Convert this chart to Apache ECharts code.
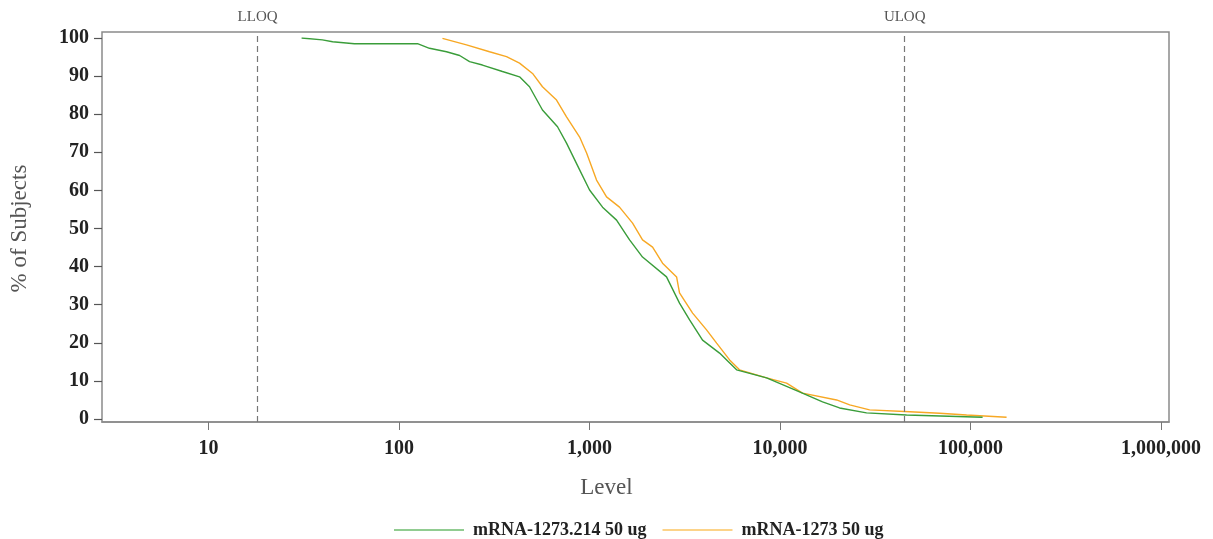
<!DOCTYPE html>
<html>
<head>
<meta charset="utf-8">
<script src="https://cdn.jsdelivr.net/npm/echarts@6/dist/echarts.min.js"></script>
<style>
html,body{margin:0;padding:0;background:#fff;}
#chart{width:1213px;height:539px;}
</style>
</head>
<body>
<div id="chart"></div>
<script>
// Series names
const seriesNames = ['mRNA-1273.214 50 ug', 'mRNA-1273 50 ug'];
// Reverse cumulative distribution: [level, % of subjects]
const greenLevels = [30.8, 39.6, 44.8, 58.3, 125, 144.5, 177.5, 208, 234.5, 274, 349, 429, 484, 566, 679, 757, 887, 1000, 1170, 1386, 1622, 1897, 2535, 2966, 3350, 3918, 4812, 5912, 8497, 12650, 16710, 20520, 28430, 46100, 115600];
const greenPct    = [100, 99.5, 99.0, 98.5, 98.5, 97.3, 96.4, 95.4, 93.8, 92.9, 91.2, 89.8, 87.2, 81.1, 76.7, 72.4, 65.4, 60.1, 55.6, 52.2, 47.0, 42.5, 37.3, 30.4, 26.0, 20.7, 17.3, 12.9, 10.8, 7.1, 4.5, 2.9, 1.6, 1.05, 0.45];
const orangeLevels = [169, 226, 298.5, 366.5, 429, 502, 566, 671, 757, 887, 965, 1088, 1228, 1436, 1682, 1897, 2142, 2416, 2863, 2966, 3475, 4112, 4645, 5433, 6124, 8497, 10820, 13120, 19800, 23200, 29500, 47900, 68800, 95300, 154500];
const orangePct    = [99.9, 98.2, 96.4, 95.1, 93.4, 90.7, 87.2, 83.7, 79.3, 74.0, 69.8, 62.7, 58.3, 55.6, 51.4, 47.0, 45.1, 40.9, 37.3, 33.1, 27.8, 23.4, 19.9, 15.5, 12.9, 10.8, 9.4, 6.8, 5.0, 3.7, 2.4, 1.9, 1.5, 1.05, 0.45];
// Reference lines
const refNames = ['LLOQ', 'ULOQ'];
const refValues = [18.1, 45100];
// Axis ranges
const xMin = 2.76, xMax = 1.1e6;
const yTicksMin = 0, yTicksMax = 100, yTickStep = 10;

const pair = (xs, ys) => xs.map((x, i) => [x, ys[i]]);
const serif = '"Liberation Serif", "DejaVu Serif", serif';

const chart = echarts.init(document.getElementById('chart'), null, {renderer: 'canvas'});
chart.setOption({
  animation: false,
  backgroundColor: '#fff',
  grid: [
    {left: 102, right: 44, top: 38, bottom: 120, show: false},
    {left: 102, right: 44, top: 32, bottom: 117, show: true, borderColor: '#8a8a8a', borderWidth: 1.5, backgroundColor: 'transparent', z: 0}
  ],
  xAxis: [
    {gridIndex: 0, type: 'log', min: xMin, max: xMax, show: false},
    {gridIndex: 1, type: 'log', min: xMin, max: xMax,
      axisLine: {show: true, lineStyle: {color: '#8a8a8a', width: 1.5}},
      axisTick: {show: true, length: 8, lineStyle: {color: '#777'}},
      splitLine: {show: false},
      axisLabel: {showMinLabel: false, showMaxLabel: false, margin: 17, color: '#222', fontFamily: serif, fontWeight: 'bold', fontSize: 20,
        formatter: v => Math.round(v).toLocaleString('en-US')},
      name: 'Level', nameLocation: 'middle', nameGap: 54,
      nameTextStyle: {fontFamily: serif, fontSize: 23, color: '#555', padding: [0, 58, 0, 0]}
    }
  ],
  yAxis: [
    {gridIndex: 0, type: 'value', min: yTicksMin, max: yTicksMax, interval: yTickStep,
      axisLine: {show: false},
      axisTick: {show: true, length: 8, lineStyle: {color: '#555', width: 1.2}},
      splitLine: {show: false},
      axisLabel: {margin: 13, color: '#222', fontFamily: serif, fontWeight: 'bold', fontSize: 20},
      name: '% of Subjects', nameLocation: 'middle', nameGap: 71, nameRotate: 90,
      nameTextStyle: {fontFamily: serif, fontSize: 23, color: '#555'}
    },
    {gridIndex: 1, type: 'value', min: 0, max: 1, show: false}
  ],
  legend: {
    data: seriesNames,
    left: 389, top: 516,
    icon: 'rect', itemWidth: 70, itemHeight: 1.5, itemGap: 16,
    textStyle: {fontFamily: serif, fontWeight: 'bold', fontSize: 18, color: '#222', padding: [0, 0, 0, 4]}
  },
  series: [
    {name: seriesNames[0], type: 'line', xAxisIndex: 0, yAxisIndex: 0, data: pair(greenLevels, greenPct),
      showSymbol: false, symbol: 'none', lineStyle: {color: '#3a9d3a', width: 1.4}, itemStyle: {color: '#6dbb6d'}, z: 3},
    {name: seriesNames[1], type: 'line', xAxisIndex: 0, yAxisIndex: 0, data: pair(orangeLevels, orangePct),
      showSymbol: false, symbol: 'none', lineStyle: {color: '#f7a824', width: 1.4}, itemStyle: {color: '#fbc462'}, z: 2},
    {name: 'ref', type: 'line', xAxisIndex: 1, yAxisIndex: 1, data: [[refValues[0], 0.5]], showSymbol: false, symbol: 'none',
      lineStyle: {opacity: 0},
      markLine: {
        silent: true, symbol: 'none',
        lineStyle: {color: '#777', type: [6, 4], width: 1.2},
        label: {show: true, position: 'end', distance: 7, formatter: p => p.name, fontFamily: serif, fontSize: 15, color: '#555'},
        data: refNames.map((n, i) => ({name: n, xAxis: refValues[i]}))
      }
    }
  ]
});
</script>
</body>
</html>
